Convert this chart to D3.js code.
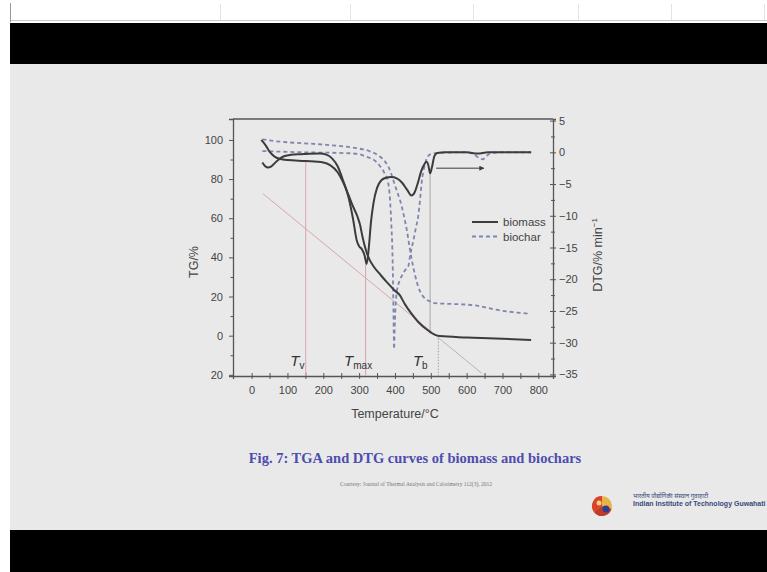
<!DOCTYPE html>
<html>
<head>
<meta charset="utf-8">
<script src="https://cdn.jsdelivr.net/npm/d3@7"></script>
<style>
  html, body { margin: 0; padding: 0; background: #fff; }
  svg { display: block; font-family: "Liberation Sans", Arial, sans-serif; }
</style>
</head>
<body>
<svg id="chart" width="767" height="572"></svg>
<script>
// ---- data (temperature in °C) ----
const biomassTG = [[27,100],[40,97],[50,94],[64,91.5],[80,90.3],[100,89.7],[150,89.2],[200,88.5],[220,87],[240,83.5],[255,78.5],[270,72],[283,66],[295,61],[302,57],[310,50],[320,43],[330,38.5],[340,35.5],[360,31],[376,27.6],[400,23],[413,20.8],[428,16],[445,11.5],[465,7],[490,3],[512,0.4],[525,-0.2],[600,-0.9],[700,-1.6],[780,-2.2]];
const biomassDTG = [[30,-1.6],[38,-2.2],[46,-2.4],[55,-2.2],[70,-1.4],[87,-0.7],[110,-0.4],[134,-0.3],[190,-0.2],[210,-0.4],[225,-1],[240,-2.2],[255,-4.4],[270,-7],[283,-10.5],[293,-13.8],[300,-14.8],[308,-15.3],[315,-16.2],[321,-17.6],[327,-15],[333,-11],[340,-8],[350,-5.6],[362,-4.4],[375,-4],[390,-3.9],[405,-4.1],[420,-4.8],[435,-6],[446,-6.8],[455,-6.3],[464,-4.8],[473,-3],[482,-1.9],[488,-1.5],[493,-2],[498,-3.3],[503,-2.4],[510,-0.6],[518,-0.1],[540,0],[600,0],[630,-0.2],[660,0],[780,0]];
const biocharTG = [[30,100.3],[60,99.5],[100,98.8],[172,98],[250,96.8],[293,95.8],[330,94.2],[358,91.5],[372,89],[381,86.5],[390,82.5],[398,78],[406,73.5],[414,69.3],[424,62],[433,54],[441,45],[447,38.7],[456,31],[465,25],[475,21],[484,19],[498,17.5],[512,16.6],[545,16.3],[605,15.8],[640,15],[680,13.3],[730,12],[777,11.2]];
const biocharDTG = [[30,0.2],[80,0.1],[150,0],[273,-0.15],[300,-0.3],[320,-0.7],[335,-1],[348,-1.5],[360,-2.3],[371,-3.3],[381,-4.8],[386,-7.3],[390,-11.5],[393,-16],[395,-22],[396.5,-28],[397.5,-31],[399,-28],[401,-25],[405,-22],[415,-20],[428,-18.6],[437,-18],[443,-16],[451,-14],[458,-12],[465,-10],[470,-7.5],[475,-4.5],[482,-2.3],[490,-0.8],[500,-0.3],[520,-0.1],[600,0],[620,-0.3],[635,-0.9],[645,-1.1],[655,-0.6],[670,-0.1],[700,0],[780,0]];

// tangent line (TG units) and marker temperatures
const tangentLine = [[32,72.5],[521,-1.0],[642,-19.2]];
const markerTemps = { Tv: 151, Tmax: 318, Tb: 498, Tend: 521 };

const xTicks = d3.range(0, 801, 50);
const tgTicks = d3.range(-20, 101, 10);
const tgTickLabels = { "-20": "20", "0": "0", "20": "20", "40": "40", "60": "60", "80": "80", "100": "100" };
const dtgTicks = d3.range(-35, 5.1, 2.5);
const legendNames = ["biomass", "biochar"];

const svg = d3.select("#chart");
const W = 767, H = 572;

// ---- slide background ----
svg.append("rect").attr("width", W).attr("height", H).attr("fill", "#ffffff");
svg.append("rect").attr("x", 10).attr("y", 23).attr("width", W - 10).attr("height", 41).attr("fill", "#000");
svg.append("rect").attr("x", 10).attr("y", 64).attr("width", W - 10).attr("height", 466).attr("fill", "#e9e9e9");
svg.append("rect").attr("x", 10).attr("y", 530).attr("width", W - 10).attr("height", 42).attr("fill", "#000");
svg.append("line").attr("x1", 10).attr("x2", W).attr("y1", 20.5).attr("y2", 20.5).attr("stroke", "#c8c8c8");
[220, 350, 473, 578, 671, 764].forEach(xp => {
  svg.append("line").attr("x1", xp + 0.5).attr("x2", xp + 0.5).attr("y1", 4).attr("y2", 20)
    .attr("stroke", "#e4e4e4");
});
svg.append("line").attr("x1", 10.5).attr("x2", 10.5).attr("y1", 3).attr("y2", 22).attr("stroke", "#999");

// ---- chart geometry ----
const plotLeft = 233, plotRight = 553, plotTop = 119, plotBottom = 376;

const x = d3.scaleLinear().domain([-52, 841]).range([plotLeft, plotRight]);
const yL = d3.scaleLinear().domain([-20.6, 110.7]).range([plotBottom, plotTop]);
const yR = d3.scaleLinear().domain([-35.25, 5.25]).range([plotBottom, plotTop]);

const axisColor = "#555";
const textColor = "#444";

// bottom axis, ticks crossing the line
const gx = svg.append("g")
  .attr("transform", `translate(0,${plotBottom})`)
  .call(d3.axisBottom(x).tickValues(xTicks).tickSizeOuter(0).tickSize(3).tickPadding(7)
    .tickFormat(d => d % 100 === 0 ? d : ""));
gx.selectAll(".tick line").attr("y1", -3);

// left axis
const gl = svg.append("g")
  .attr("transform", `translate(${plotLeft},0)`)
  .call(d3.axisLeft(yL).tickValues(tgTicks).tickSizeOuter(0).tickSize(4).tickPadding(6)
    .tickFormat(d => tgTickLabels[d] || ""));
gl.selectAll(".tick line").attr("x2", d => d % 20 === 0 ? -4 : -2.5);

// right axis
const gr = svg.append("g")
  .attr("transform", `translate(${plotRight},0)`)
  .call(d3.axisRight(yR).tickValues(dtgTicks).tickSizeOuter(0).tickSize(3).tickPadding(3)
    .tickFormat(d => d % 5 === 0 ? d3.format("d")(d) : ""));
gr.selectAll(".tick line")
  .attr("x1", d => d % 5 === 0 ? -3 : -2)
  .attr("x2", d => d % 5 === 0 ? 3 : 2);

[gx, gl, gr].forEach(g => {
  g.select(".domain").attr("stroke", axisColor).attr("stroke-width", 1.3);
  g.selectAll(".tick line").attr("stroke", axisColor).attr("stroke-width", 1);
  g.selectAll(".tick text").attr("fill", textColor).style("font-size", "11px")
    .style("font-family", "'Liberation Sans', Arial, sans-serif");
});
// top border of the frame
svg.append("line").attr("x1", plotLeft).attr("x2", plotRight).attr("y1", plotTop).attr("y2", plotTop)
  .attr("stroke", axisColor).attr("stroke-width", 1.3);

// axis titles
svg.append("text").attr("x", x(400)).attr("y", 418).attr("text-anchor", "middle")
  .attr("fill", textColor).style("font-size", "12.5px").text("Temperature/°C");
svg.append("text").attr("transform", `translate(198,${262}) rotate(-90)`).attr("text-anchor", "middle")
  .attr("fill", textColor).style("font-size", "12.5px").text("TG/%");
const dtgLabel = svg.append("text").attr("transform", `translate(602,${255}) rotate(-90)`)
  .attr("text-anchor", "middle").attr("fill", textColor).style("font-size", "12.5px");
dtgLabel.append("tspan").text("DTG/% min");
dtgLabel.append("tspan").attr("dy", -5).style("font-size", "8px").text("−1");

// ---- annotation lines ----
const pink = "#d9a4ac";
const lineL = d3.line().x(d => x(d[0])).y(d => yL(d[1]));
svg.append("path").datum(tangentLine.slice(0, 2)).attr("d", lineL)
  .attr("fill", "none").attr("stroke", pink).attr("stroke-width", 1);
svg.append("path").datum(tangentLine.slice(1)).attr("d", lineL)
  .attr("fill", "none").attr("stroke", "#b5b5b5").attr("stroke-width", 1);

svg.append("line").attr("x1", x(markerTemps.Tv)).attr("x2", x(markerTemps.Tv))
  .attr("y1", yL(89)).attr("y2", plotBottom).attr("stroke", pink).attr("stroke-width", 1);
svg.append("line").attr("x1", x(markerTemps.Tmax)).attr("x2", x(markerTemps.Tmax))
  .attr("y1", yL(38)).attr("y2", plotBottom).attr("stroke", pink).attr("stroke-width", 1);
svg.append("line").attr("x1", x(markerTemps.Tb)).attr("x2", x(markerTemps.Tb))
  .attr("y1", yR(-3)).attr("y2", yL(1)).attr("stroke", "#a8a8a8").attr("stroke-width", 1);
svg.append("line").attr("x1", x(markerTemps.Tend)).attr("x2", x(markerTemps.Tend))
  .attr("y1", yL(0)).attr("y2", plotBottom).attr("stroke", "#a0a0a0").attr("stroke-width", 1)
  .attr("stroke-dasharray", "1.5,1.5");

// ---- curves ----
const solid = "#3c3c3c", dashed = "#7f86ad";
const lineR = d3.line().x(d => x(d[0])).y(d => yR(d[1])).curve(d3.curveMonotoneX);
const lineLc = d3.line().x(d => x(d[0])).y(d => yL(d[1])).curve(d3.curveMonotoneX);

svg.append("path").datum(biocharTG).attr("d", lineLc).attr("fill", "none")
  .attr("stroke", dashed).attr("stroke-width", 1.8).attr("stroke-dasharray", "4,3");
svg.append("path").datum(biocharDTG).attr("d", lineR).attr("fill", "none")
  .attr("stroke", dashed).attr("stroke-width", 1.8).attr("stroke-dasharray", "4,3");
svg.append("path").datum(biomassTG).attr("d", lineLc).attr("fill", "none")
  .attr("stroke", solid).attr("stroke-width", 2);
svg.append("path").datum(biomassDTG).attr("d", lineR).attr("fill", "none")
  .attr("stroke", solid).attr("stroke-width", 2);

// arrow pointing at the DTG axis
svg.append("defs").append("marker").attr("id", "arrow").attr("viewBox", "0 0 10 10")
  .attr("refX", 9).attr("refY", 5).attr("markerWidth", 6).attr("markerHeight", 5)
  .attr("orient", "auto").append("path").attr("d", "M0,0L10,5L0,10Z").attr("fill", solid);
svg.append("line").attr("x1", x(515)).attr("x2", x(648)).attr("y1", yR(-2.5)).attr("y2", yR(-2.5))
  .attr("stroke", solid).attr("stroke-width", 1).attr("marker-end", "url(#arrow)");

// T labels
const tLabels = [
  { t: 108, sub: "v" },
  { t: 258, sub: "max" },
  { t: 450, sub: "b" }
];
tLabels.forEach(d => {
  const tx = svg.append("text").attr("x", x(d.t)).attr("y", yL(-15.5)).attr("fill", "#333");
  tx.append("tspan").style("font-size", "15px").style("font-style", "italic").text("T");
  tx.append("tspan").attr("dy", 3).style("font-size", "10px").text(d.sub);
});

// legend
legendNames.forEach((name, i) => {
  const ly = 222 + i * 14.5;
  svg.append("line").attr("x1", 472).attr("x2", 498).attr("y1", ly).attr("y2", ly)
    .attr("stroke", i === 0 ? solid : dashed).attr("stroke-width", i === 0 ? 2 : 1.8)
    .attr("stroke-dasharray", i === 0 ? null : "4,3");
  svg.append("text").attr("x", 503).attr("y", ly + 4).attr("fill", textColor)
    .style("font-size", "11.5px").text(name);
});

// ---- caption and credits ----
svg.append("text").attr("x", 415).attr("y", 463).attr("text-anchor", "middle")
  .attr("fill", "#4d4db0").style("font-family", "'Liberation Serif', 'Times New Roman', serif")
  .style("font-size", "14.5px").style("font-weight", "bold")
  .text("Fig. 7: TGA and DTG curves of biomass and biochars");
svg.append("text").attr("x", 416).attr("y", 486).attr("text-anchor", "middle")
  .attr("fill", "#777").style("font-family", "'Liberation Serif', serif").style("font-size", "5.5px")
  .text("Courtesy: Journal of Thermal Analysis and Calorimetry 112(3), 2012");

// logo
const logo = svg.append("g").attr("transform", "translate(602,506)");
logo.append("circle").attr("r", 10).attr("fill", "#e8b44a");
logo.append("path").attr("d", d3.arc()({ innerRadius: 0, outerRadius: 10, startAngle: Math.PI * 0.6, endAngle: Math.PI * 1.3 })).attr("fill", "#c0392b");
logo.append("path").attr("d", d3.arc()({ innerRadius: 0, outerRadius: 10, startAngle: Math.PI * 1.3, endAngle: Math.PI * 2 })).attr("fill", "#d8432a");
logo.append("circle").attr("r", 3.5).attr("cx", 4).attr("cy", 3).attr("fill", "#2a3f8f");
logo.append("circle").attr("r", 2.5).attr("cx", -3).attr("cy", -3).attr("fill", "#f2d27a");

svg.append("text").attr("x", 633).attr("y", 498).attr("fill", "#3a4a7a").style("font-size", "6px")
  .style("font-family", "'Noto Sans', sans-serif").text("भारतीय प्रौद्योगिकी संस्थान गुवाहाटी");
svg.append("text").attr("x", 633).attr("y", 506).attr("fill", "#3a4a7a").style("font-size", "7px")
  .style("font-weight", "bold").text("Indian Institute of Technology Guwahati");
</script>
</body>
</html>
